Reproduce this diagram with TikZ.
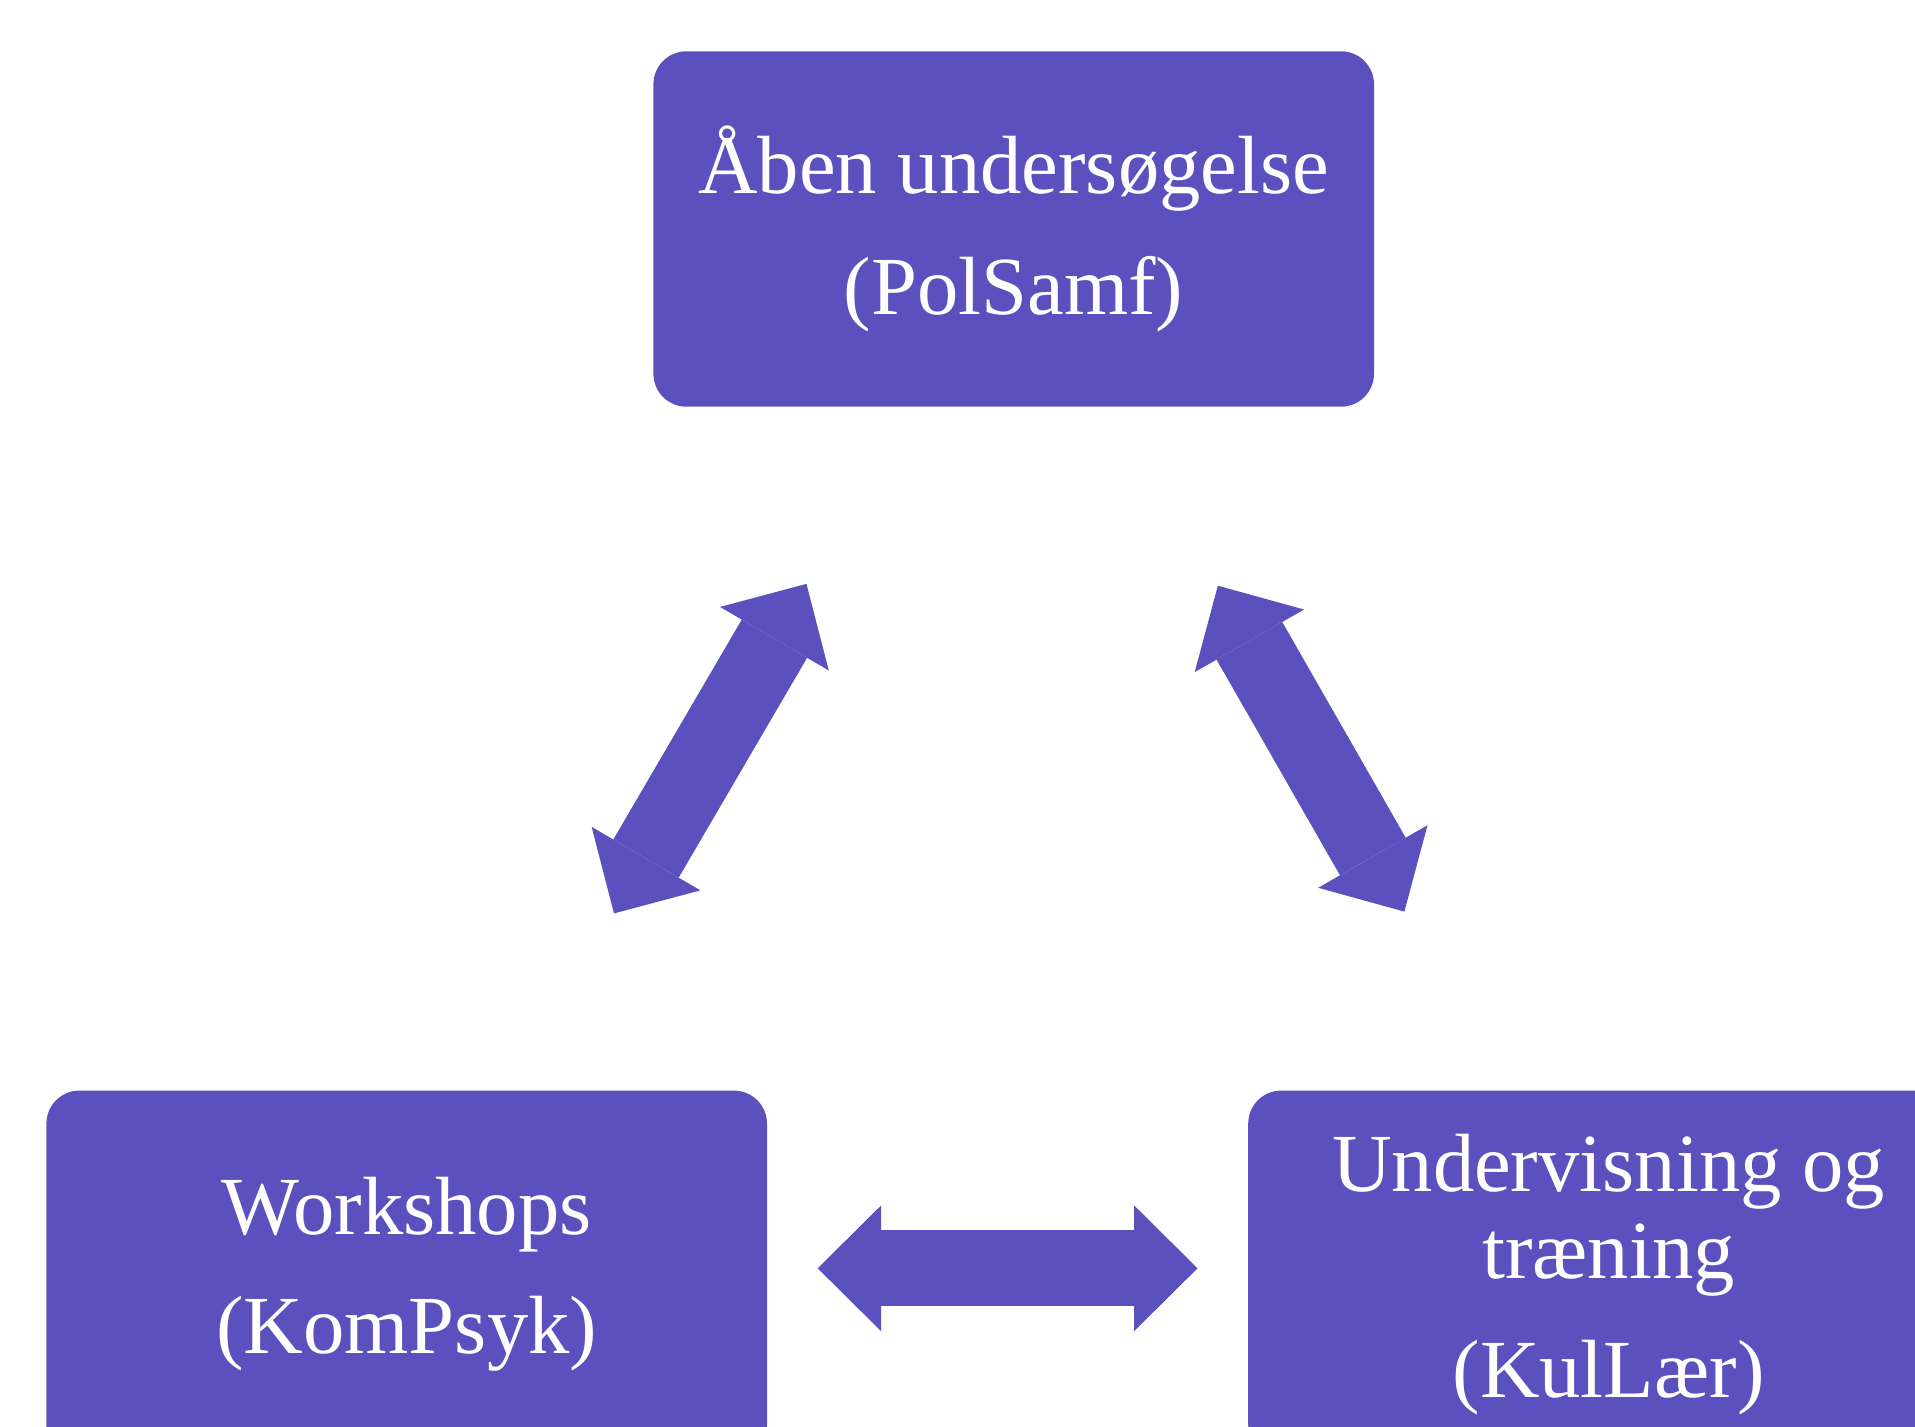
\documentclass[tikz,border=0pt]{standalone}
\usepackage{fontspec}
\setmainfont{Liberation Serif}
\usetikzlibrary{arrows.meta}
\definecolor{slilla}{HTML}{5B51BE}

\begin{document}
\begin{tikzpicture}[>={Triangle[length=6.35mm,width=12.6mm,line width=0pt]},every edge/.style={draw=slilla,line width=7.57mm},
        boks/.style={rectangle, rounded corners=3.3mm, fill=slilla, text=white, minimum width=72.06mm, minimum height=35.54mm, inner sep=0pt, align=center, font=\fontsize{23.5}{25}\selectfont}]
        \useasboundingbox (0,0) rectangle (19.15,-14.27);
        \clip (0,0) rectangle (19.15,-14.27);

        \node[boks] (A) at (10.137, -2.29) {Åben undersøgelse\\[9.4pt](PolSamf)};

        \node[boks, minimum height=36.74mm] (W) at (4.067, -12.743) {Workshops\\[8.7pt](KomPsyk)};

        \node[boks, minimum height=36.74mm] (U) at (16.085, -12.743) {Undervisning og\\træning\\[8.7pt](KulLær)};


        \path [<->, shorten <=41.1mm, shorten >=41.1mm](A.center) edge ([yshift=0.6mm]W.center);
        \path [<->, shorten <=41.1mm, shorten >=41.1mm](A.center) edge ([yshift=0.6mm]U.center);
        \path [<->, shorten <=41.1mm, shorten >=41.1mm]([yshift=0.6mm]W.center) edge ([yshift=0.6mm]U.center);

    \end{tikzpicture}
\end{document}
